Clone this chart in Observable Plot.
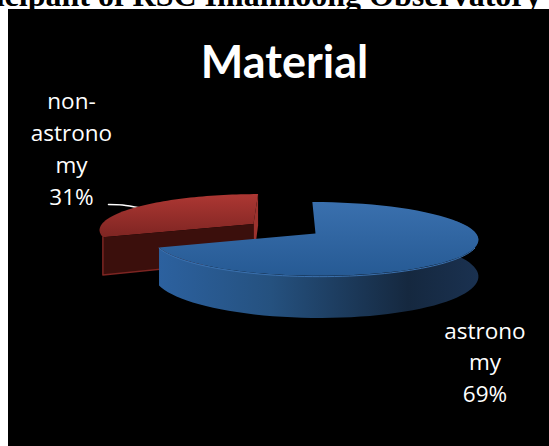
<!DOCTYPE html>
<html>
<head>
<meta charset="utf-8">
<script src="https://cdn.jsdelivr.net/npm/d3@7"></script>
<script src="https://cdn.jsdelivr.net/npm/@observablehq/plot@0.6"></script>
<style>
  html, body { margin: 0; padding: 0; background: #fff; }
  svg { display: block; }
</style>
</head>
<body>
<div id="chart"></div>
<script>
// Share of material by type
const categories = ["astronomy", "non-astronomy"];
const shares = [69, 31];
const labelLines = [["astrono", "my", "69%"], ["non-", "astrono", "my", "31%"]];
const chartTitle = "Material";
const pageHeading = "Participant of RSC Imahnoong Observatory";

// Scene units: one unit is the nominal pie radius, the origin is the pie centre.
const pxPerUnit = 163;
const originX = 315, originY = 233;
const width = 549, height = 446;
const xDomain = [-originX / pxPerUnit, (width - originX) / pxPerUnit];
const yDomain = [(height - originY) / pxPerUnit, -originY / pxPerUnit];

// Tilted-disc projection with mild perspective.
const tilt = 0.225, persp = 0.15, vanishX = -0.15;
const thickness = 0.22;
const blueR = 0.985, redR = 0.93;
const project = (u, v, drop, ox, oy) => {
  const p = 1 / (1 + persp * v);
  return {
    x: vanishX + (ox + u - vanishX) * p,
    y: oy - tilt * v * p + drop * p
  };
};
const rimPoint = (a, drop, o) => project(o.r * Math.sin(a), o.r * Math.cos(a), drop, o.x, o.y);
const arcPoints = (a0, a1, drop, o) =>
  d3.range(61).map(i => rimPoint(a0 + (a1 - a0) * i / 60, drop, o));

// Slices from the shares, clockwise from twelve o'clock, the smaller one pulled out.
const arcs = d3.pie().sort(null).value(d => d)(shares);
const [blue, red] = arcs;
const redMid = (red.startAngle + red.endAngle) / 2;
const pull = 0.46;
const blueO = {x: 0, y: 0, r: blueR};
const redO = {x: Math.sin(redMid) * pull, y: -Math.cos(redMid) * pull * tilt, r: redR};

const apex = (o, drop) => project(0, 0, drop, o.x, o.y);

const redTop = [apex(redO, 0), ...arcPoints(red.startAngle, red.endAngle, 0, redO)];
const redCut = [
  apex(redO, 0),
  rimPoint(red.startAngle, 0, redO),
  rimPoint(red.startAngle, thickness, redO),
  apex(redO, thickness)
];
const redCutRim = [
  rimPoint(red.startAngle, 0, redO),
  rimPoint(red.startAngle, thickness, redO),
  apex(redO, thickness)
];
const redEdge = [
  rimPoint(red.endAngle, 0, redO),
  rimPoint(red.endAngle, thickness, redO),
  apex(redO, thickness),
  apex(redO, 0)
];
const blueTop = [apex(blueO, 0), ...arcPoints(blue.startAngle, blue.endAngle, 0, blueO)];
const blueSideStart = Math.PI * 0.38;
const blueSide = [
  ...arcPoints(blueSideStart, blue.endAngle, 0, blueO),
  ...arcPoints(blue.endAngle, blueSideStart, thickness, blueO)
];
const blueBevel = arcPoints(Math.PI * 0.62, blue.endAngle, 0.004, blueO);

const toUnitsX = px => (px - originX) / pxPerUnit;
const toUnitsY = px => (px - originY) / pxPerUnit;

// Leader from the small label to its slice.
const leader = [
  {x: toUnitsX(108), y: toUnitsY(204)},
  {x: toUnitsX(122), y: toUnitsY(204.5)},
  {x: toUnitsX(140), y: toUnitsY(207.5)}
];

const textRows = (lines, cx, firstY, step) =>
  lines.map((text, i) => ({text, x: toUnitsX(cx), y: toUnitsY(firstY + i * step)}));
const labelRows = [
  ...textRows(labelLines[0], 484.5, 331, 31.5),
  ...textRows(labelLines[1], 71, 101, 32)
];

const stop = (o, c) => `<stop offset="${o}" stop-color="${c}"/>`;
const gradients = () => {
  const g = document.createElementNS("http://www.w3.org/2000/svg", "defs");
  g.innerHTML = `
    <linearGradient id="blueTopFill" x1="0" y1="0" x2="0" y2="1">
      ${stop(0, "#3a70ae")}${stop(1, "#265a94")}
    </linearGradient>
    <linearGradient id="blueSideFill" x1="0" y1="0" x2="1" y2="0">
      ${stop(0, "#2c619f")}${stop(0.35, "#25517f")}${stop(0.78, "#15283f")}${stop(1, "#1a3150")}
    </linearGradient>
    <linearGradient id="redTopFill" x1="0" y1="0" x2="0" y2="1">
      ${stop(0, "#ad3733")}${stop(1, "#7e2522")}
    </linearGradient>`;
  return g;
};

const piece = (pts, fill) =>
  Plot.line(pts, {x: "x", y: "y", fill, stroke: "none", curve: "linear"});

const plot = Plot.plot({
  width, height,
  margin: 0,
  style: {background: "#fff", overflow: "hidden"},
  x: {domain: xDomain, axis: null},
  y: {domain: yDomain, axis: null},
  marks: [
    gradients,
    Plot.text([pageHeading], {
      x: toUnitsX(541), y: toUnitsY(-5), text: d => d, textAnchor: "end",
      fontFamily: "Liberation Serif", fontWeight: "bold", fontSize: 32, fill: "#000"
    }),
    Plot.rect([0], {
      x1: toUnitsX(8), x2: xDomain[1],
      y1: toUnitsY(9), y2: yDomain[0],
      fill: "#000"
    }),
    Plot.text([chartTitle], {
      x: toUnitsX(284), y: toUnitsY(63), text: d => d,
      fontFamily: "Lato", fontWeight: "bold", fontSize: 45, fill: "#fff"
    }),
    Plot.line(leader, {x: "x", y: "y", stroke: "#fff", strokeWidth: 1.5, curve: "catmull-rom"}),
    piece(redTop, "url(#redTopFill)"),
    piece(redEdge, "#9c322e"),
    piece(redCut, "#3b0f0c"),
    Plot.line(redCutRim, {x: "x", y: "y", stroke: "#7d2522", strokeWidth: 1.5}),
    piece(blueSide, "url(#blueSideFill)"),
    piece(blueTop, "url(#blueTopFill)"),
    Plot.line(blueBevel, {x: "x", y: "y", stroke: "#3a70ae", strokeWidth: 1}),
    Plot.text(labelRows, {
      x: "x", y: "y", text: "text",
      fontFamily: "Open Sans", fontSize: 22.5, fill: "#fff"
    })
  ]
});
document.getElementById("chart").append(plot);
</script>
</body>
</html>
